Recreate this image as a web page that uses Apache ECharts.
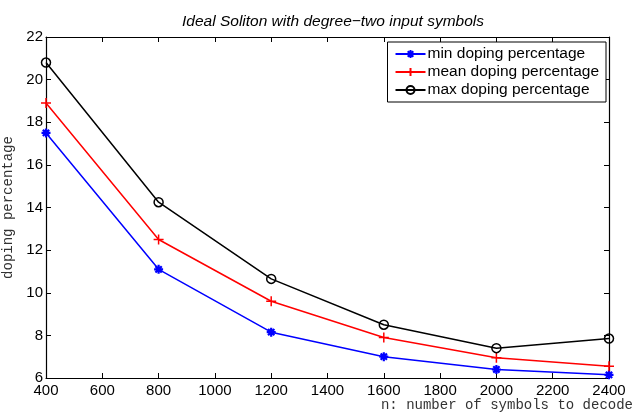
<!DOCTYPE html>
<html><head><meta charset="utf-8">
<script src="https://cdn.jsdelivr.net/npm/echarts@6/dist/echarts.min.js"></script>
<style>html,body{margin:0;padding:0;background:#fff}#c{width:636px;height:415px}</style>
</head><body><div id="c"></div>
<script>
const nValues = [400, 800, 1200, 1600, 2000, 2400];
const minDoping = [17.5, 11.1, 8.15, 7.0, 6.4, 6.15];
const meanDoping = [18.9, 12.5, 9.6, 7.9, 6.95, 6.55];
const maxDoping = [20.8, 14.25, 10.65, 8.5, 7.4, 7.85];
const seriesNames = ['min doping percentage', 'mean doping percentage', 'max doping percentage'];
const titleText = 'Ideal Soliton with degree\u2212two input symbols';
const xName = 'n: number of symbols to decode';
const yName = 'doping percentage';

const FONT = '"Liberation Sans", Arial, sans-serif';
const MONO = '"Liberation Mono", "DejaVu Sans Mono", monospace';
const pair = (arr) => nValues.map((x, i) => [x, arr[i]]);

const plusPath = 'path://M-1,0L1,0M0,-1L0,1';
const starPath = 'path://M-1,0L1,0M0,-1L0,1M-0.7,-0.7L0.7,0.7M-0.7,0.7L0.7,-0.7';

const axisCommon = {
  axisLine: {show: true, lineStyle: {color: '#000', width: 1.2}},
  axisTick: {show: true, inside: true, length: 5, lineStyle: {color: '#000'}},
  splitLine: {show: false},
  axisLabel: {color: '#000', fontFamily: FONT, fontSize: 15}
};

const chart = echarts.init(document.getElementById('c'));
chart.setOption({
  animation: false,
  backgroundColor: '#fff',
  title: {
    text: titleText, left: 328, textAlign: 'center', top: 9,
    textStyle: {fontFamily: FONT, fontSize: 15.5, fontStyle: 'italic', fontWeight: 'normal', color: '#000'}
  },
  grid: {left: 46, right: 27, top: 37, bottom: 37, containLabel: false, outerBoundsMode: 'none'},
  legend: {
    orient: 'vertical', right: 30, top: 42,
    backgroundColor: '#fff', borderColor: '#000', borderWidth: 1,
    padding: [4, 7, 4, 7], itemGap: 2, itemWidth: 30, itemHeight: 10,
    textStyle: {fontFamily: FONT, fontSize: 15.5, color: '#000', padding: [0, 0, 0, -3]},
    data: seriesNames
  },
  xAxis: [
    Object.assign({}, axisCommon, {type: 'value', min: 400, max: 2400, interval: 200, position: 'bottom',
      axisLabel: Object.assign({}, axisCommon.axisLabel, {margin: 5, formatter: (v) => String(v)})}),
    Object.assign({}, axisCommon, {type: 'value', min: 400, max: 2400, interval: 200, position: 'top',
      axisLabel: {show: false}})
  ],
  yAxis: [
    Object.assign({}, axisCommon, {type: 'value', min: 6, max: 22, interval: 2, position: 'left',
      axisLabel: Object.assign({}, axisCommon.axisLabel, {margin: 3}),
      name: yName, nameLocation: 'middle', nameGap: 31, nameRotate: 90,
      nameTextStyle: {fontFamily: MONO, fontSize: 14, color: '#333'}}),
    Object.assign({}, axisCommon, {type: 'value', min: 6, max: 22, interval: 2, position: 'right',
      axisLabel: {show: false}})
  ],
  graphic: [{
    type: 'text', right: 3, top: 398,
    style: {text: xName, font: '14px ' + MONO, fill: '#333'}
  }],
  series: [
    {name: seriesNames[0], type: 'line', data: pair(minDoping), color: '#0000ff',
      symbol: starPath, symbolSize: 9,
      lineStyle: {width: 1.5, color: '#0000ff'},
      itemStyle: {color: '#0000ff', borderColor: '#0000ff', borderWidth: 2.2}},
    {name: seriesNames[1], type: 'line', data: pair(meanDoping), color: '#ff0000',
      symbol: plusPath, symbolSize: 10,
      lineStyle: {width: 1.5, color: '#ff0000'},
      itemStyle: {color: '#ff0000', borderColor: '#ff0000', borderWidth: 1.5}},
    {name: seriesNames[2], type: 'line', data: pair(maxDoping), color: '#000000',
      symbol: 'circle', symbolSize: 9,
      lineStyle: {width: 1.5, color: '#000'},
      itemStyle: {color: 'rgba(0,0,0,0)', borderColor: '#000', borderWidth: 1.5}}
  ]
});
</script></body></html>
